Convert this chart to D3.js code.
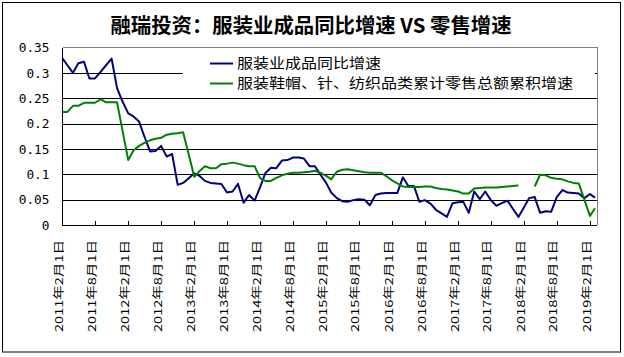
<!DOCTYPE html>
<html>
<head>
<meta charset="utf-8">
<script src="https://cdn.jsdelivr.net/npm/d3@7"></script>
<style>
  html, body { margin: 0; padding: 0; background: #fff; }
  svg { display: block; }
  text { font-family: "Noto Sans CJK SC", "Noto Sans", sans-serif; }
</style>
</head>
<body>
<svg id="chart" width="624" height="357"></svg>
<script>
// ---------- data ----------
const titleText = "融瑞投资：服装业成品同比增速 VS 零售增速";
const seriesNames = ["服装业成品同比增速", "服装鞋帽、针、纺织品类累计零售总额累积增速"];
const seriesColors = ["#000080", "#008000"];
const firstMonth = [2011, 0]; // first observation: end of Jan 2011
const yTickLabels = ["0", "0.05", "0.1", "0.15", "0.2", "0.25", "0.3", "0.35"];
const xTickLabels = ["2011年2月1日","2011年8月1日","2012年2月1日","2012年8月1日","2013年2月1日",
  "2013年8月1日","2014年2月1日","2014年8月1日","2015年2月1日","2015年8月1日","2016年2月1日",
  "2016年8月1日","2017年2月1日","2017年8月1日","2018年2月1日","2018年8月1日","2019年2月1日"];

// 服装业成品同比增速 (monthly)
const apparelOutput = [
  0.329,0.315,0.300,0.319,0.322,0.289,0.289,0.302,0.315,0.328,0.270,0.243,
  0.220,0.214,0.204,0.174,0.145,0.146,0.156,0.135,0.140,0.079,0.083,0.092,
  0.102,0.097,0.087,0.083,0.082,0.081,0.064,0.066,0.081,0.044,0.059,0.048,
  0.075,0.102,0.113,0.112,0.127,0.128,0.133,0.133,0.131,0.116,0.116,0.099,
  0.083,0.064,0.053,0.047,0.046,0.049,0.051,0.050,0.039,0.059,0.062,0.063,
  0.063,0.063,0.094,0.077,0.077,0.046,0.049,0.042,0.030,0.023,0.016,0.043,
  0.045,0.046,0.024,0.066,0.051,0.066,0.049,0.038,0.043,0.048,0.032,0.016,
  0.035,0.053,0.055,0.024,0.027,0.026,0.055,0.069,0.064,0.063,0.062,0.053,
  0.061,0.054
];
// 服装鞋帽、针、纺织品类累计零售总额累积增速 (monthly, null = missing)
const apparelRetail = [
  0.223,0.223,0.235,0.235,0.241,0.241,0.241,0.248,0.242,0.242,0.242,0.185,
  0.128,0.147,0.156,0.162,0.167,0.170,0.172,0.178,0.180,0.181,0.183,0.139,
  0.095,0.106,0.116,0.112,0.112,0.120,0.121,0.123,0.121,0.118,0.116,0.116,
  0.092,0.087,0.087,0.093,0.098,0.101,0.103,0.103,0.104,0.105,0.107,0.103,
  0.097,0.090,0.105,0.109,0.110,0.108,0.106,0.104,0.103,0.103,0.103,0.096,
  0.088,0.082,0.076,0.075,0.075,0.075,0.076,0.076,0.073,0.071,0.070,0.068,
  0.066,0.062,0.062,0.072,0.073,0.074,0.074,0.074,0.075,0.076,0.077,0.078,
  null,null,0.076,0.099,0.098,0.093,0.091,0.090,0.086,0.083,0.082,0.050,
  0.018,0.033
];

// ---------- helpers ----------
const monthEnd = k => new Date(firstMonth[0], firstMonth[1] + k + 1, 0);
const parseCn = s => { const m = s.match(/(\d+)年(\d+)月(\d+)日/); return new Date(+m[1], +m[2]-1, +m[3]); };

const svg = d3.select("#chart");
const plot = { left: 62.5, right: 597, top: 47.5, bottom: 225 };

const x = d3.scaleTime()
  .domain([parseCn(xTickLabels[0]), new Date(2019, 2, 11)])
  .range([plot.left, plot.right]);
const y = d3.scaleLinear().domain([0, 0.35]).range([plot.bottom, plot.top]);

// outer frame
svg.append("rect").attr("x", 2.5).attr("y", 2.5).attr("width", 618).attr("height", 349.5)
  .attr("fill", "#fff").attr("stroke", "#000").attr("stroke-width", 1);

// title
svg.append("text").attr("x", 311).attr("y", 33).attr("text-anchor", "middle")
  .attr("font-size", 20).attr("font-weight", "bold").attr("fill", "#000")
  .attr("textLength", 401).attr("lengthAdjust", "spacingAndGlyphs")
  .text(titleText);

// plot area frame (top/right gray)
svg.append("path")
  .attr("d", `M${plot.left},${plot.top}H${plot.right}V${plot.bottom}`)
  .attr("fill", "none").attr("stroke", "#808080").attr("stroke-width", 1)
  .attr("shape-rendering", "crispEdges");

// gridlines
const yVals = yTickLabels.map(Number);
svg.append("g").selectAll("line").data(yVals.filter(v => v > 0 && v < 0.35)).join("line")
  .attr("x1", plot.left).attr("x2", plot.right)
  .attr("y1", d => Math.round(y(d)) + 0.5).attr("y2", d => Math.round(y(d)) + 0.5)
  .attr("stroke", "#000").attr("stroke-width", 1).attr("shape-rendering", "crispEdges");

// y labels
svg.append("g").selectAll("text").data(yTickLabels).join("text")
  .attr("x", 49.5).attr("y", d => y(+d)).attr("dy", "0.36em")
  .attr("text-anchor", "end").attr("font-size", 13)
  .style("font-family", "'DejaVu Sans Mono', 'Liberation Mono', monospace")
  .attr("textLength", d => d.length * 7.7).attr("lengthAdjust", "spacingAndGlyphs")
  .attr("fill", "#000")
  .text(d => d);

// axes lines
svg.append("line").attr("x1", plot.left).attr("x2", plot.left)
  .attr("y1", plot.top).attr("y2", plot.bottom + 0.5)
  .attr("stroke", "#000").attr("shape-rendering", "crispEdges");
svg.append("line").attr("x1", plot.left).attr("x2", plot.right)
  .attr("y1", plot.bottom + 0.5).attr("y2", plot.bottom + 0.5)
  .attr("stroke", "#000").attr("shape-rendering", "crispEdges");

// x ticks (pointing inward) and labels
const tickDates = xTickLabels.map(parseCn);
svg.append("g").selectAll("line").data(tickDates.slice(1)).join("line")
  .attr("x1", d => Math.round(x(d)) + 0.5).attr("x2", d => Math.round(x(d)) + 0.5)
  .attr("y1", plot.bottom - 4).attr("y2", plot.bottom)
  .attr("stroke", "#000").attr("shape-rendering", "crispEdges");

svg.append("g").selectAll("text").data(xTickLabels).join("text")
  .attr("transform", (d, i) => `translate(${x(tickDates[i]) - 3.5},240) rotate(-90)`)
  .attr("text-anchor", "end").attr("dy", "0.36em")
  .attr("font-size", 11).attr("fill", "#000")
  .attr("textLength", 92).attr("lengthAdjust", "spacingAndGlyphs")
  .text(d => d);

// lines
const seriesData = [apparelOutput, apparelRetail];
const line = d3.line()
  .defined(d => d.v !== null)
  .x(d => x(d.date)).y(d => y(d.v));
seriesData.forEach((vals, i) => {
  const pts = vals.map((v, k) => ({ date: monthEnd(k), v }));
  svg.append("path").datum(pts)
    .attr("d", line)
    .attr("fill", "none").attr("stroke", seriesColors[i])
    .attr("stroke-width", 2).attr("stroke-linejoin", "round");
});

// legend (white box covers grid)
const lg = svg.append("g");
lg.append("rect").attr("x", 183).attr("y", 51).attr("width", 412).attr("height", 44).attr("fill", "#fff");
seriesNames.forEach((name, i) => {
  const cy = 63.5 + i * 20;
  lg.append("line").attr("x1", 210).attr("x2", 233).attr("y1", cy).attr("y2", cy)
    .attr("stroke", seriesColors[i]).attr("stroke-width", 2);
  lg.append("text").attr("x", 237).attr("y", cy).attr("dy", "0.36em")
    .attr("font-size", 13.8).attr("fill", "#000")
    .attr("textLength", name.length * 16).attr("lengthAdjust", "spacingAndGlyphs")
    .text(name);
});
</script>
</body>
</html>
